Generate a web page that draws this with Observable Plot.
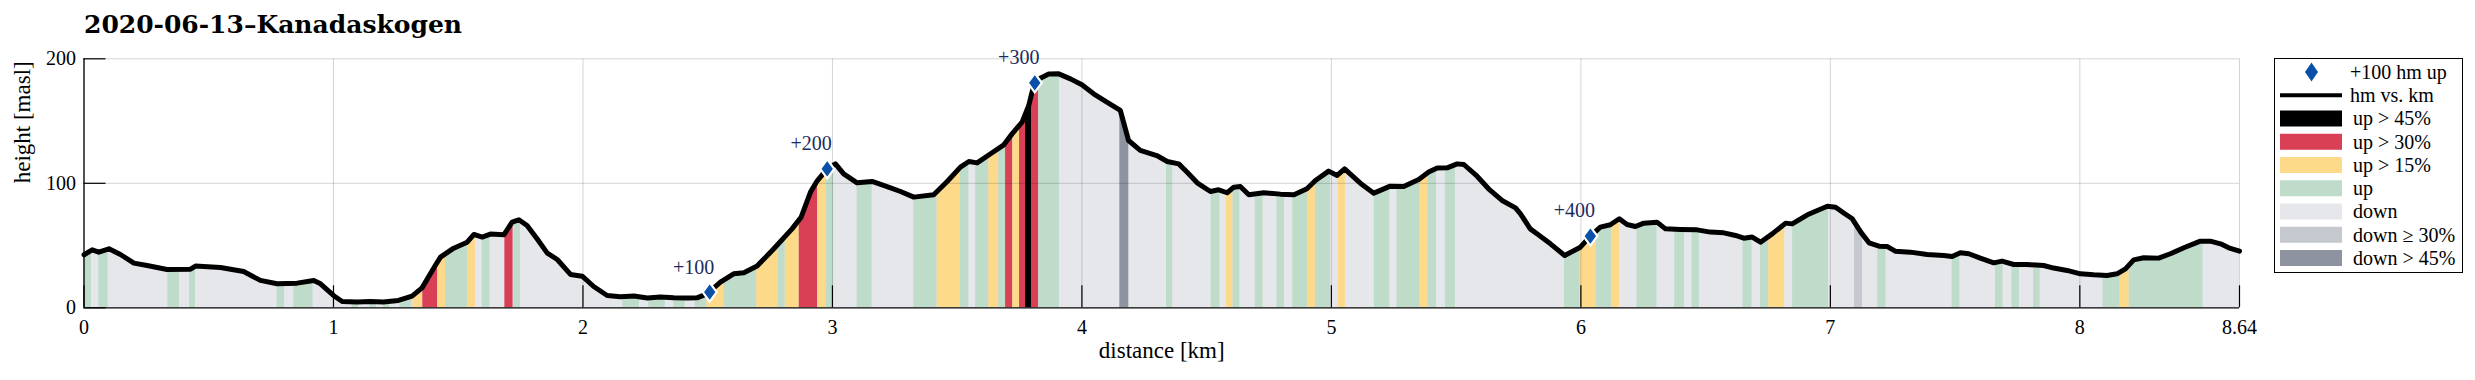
<!DOCTYPE html>
<html>
<head>
<meta charset="utf-8">
<script src="https://cdn.jsdelivr.net/npm/d3@7"></script>
<script src="https://cdn.jsdelivr.net/npm/@observablehq/plot@0.6"></script>
<style>
  body { margin: 0; background: #fff; }
  #wrap { position: relative; width: 2475px; height: 380px; overflow: hidden; background: #fff; }
  #title { position: absolute; left: 84px; top: 12px; font: bold 25px "DejaVu Serif", serif; line-height: 1; white-space: nowrap; color: #000; }
  #chart { position: absolute; left: 0; top: 0; }
  #legend { position: absolute; left: 2274px; top: 58px; }
</style>
</head>
<body>
<div id="wrap">
  <div id="chart"></div>
  <div id="title">2020-06-13–Kanadaskogen</div>
  <div id="legend"></div>
</div>
<script>
// ---- elevation profile (distance in km, height in masl) ----
const distKm = [0.000,0.033,0.059,0.100,0.146,0.200,0.253,0.333,0.427,0.447,0.547,0.640,0.707,0.774,0.854,0.921,0.948,1.000,1.035,1.095,1.148,1.200,1.260,1.315,1.355,1.408,1.429,1.482,1.536,1.563,1.596,1.629,1.683,1.716,1.743,1.776,1.816,1.857,1.897,1.950,1.997,2.043,2.097,2.150,2.204,2.258,2.310,2.364,2.418,2.457,2.497,2.551,2.604,2.645,2.698,2.765,2.838,2.875,2.912,2.939,2.979,3.012,3.045,3.099,3.159,3.219,3.273,3.326,3.406,3.460,3.513,3.547,3.580,3.634,3.687,3.720,3.760,3.787,3.800,3.811,3.833,3.867,3.907,3.954,4.000,4.047,4.100,4.154,4.187,4.234,4.300,4.342,4.388,4.421,4.462,4.515,4.548,4.582,4.609,4.635,4.669,4.729,4.796,4.850,4.902,4.936,4.989,5.023,5.053,5.116,5.170,5.236,5.290,5.350,5.390,5.424,5.464,5.504,5.531,5.584,5.630,5.684,5.738,5.758,5.797,5.824,5.878,5.935,5.998,6.038,6.078,6.118,6.154,6.185,6.219,6.252,6.305,6.339,6.399,6.466,6.519,6.573,6.620,6.653,6.687,6.720,6.767,6.821,6.847,6.908,6.988,7.021,7.055,7.088,7.122,7.155,7.195,7.227,7.260,7.321,7.388,7.455,7.488,7.521,7.555,7.601,7.655,7.688,7.735,7.788,7.855,7.895,7.949,8.002,8.056,8.109,8.149,8.183,8.216,8.256,8.316,8.363,8.417,8.483,8.523,8.564,8.597,8.640];
const heightM = [42.6,46.6,44.7,47.4,42.8,35.9,34.0,30.8,31.0,33.5,32.4,29.2,22.0,19.3,19.8,22.0,19.3,9.9,5.1,4.6,5.1,4.6,5.9,9.4,16.0,34.0,40.7,47.9,52.7,58.9,56.8,59.2,58.6,68.8,70.7,66.1,55.4,43.9,38.8,26.8,25.4,17.1,9.9,8.8,9.4,7.8,8.6,8.0,7.8,8.0,11.2,20.6,27.3,28.1,33.5,47.4,63.4,73.0,92.9,102.0,111.6,115.6,107.6,100.4,101.5,97.4,93.4,88.9,90.8,101.5,113.0,117.5,116.4,123.7,130.9,139.7,149.1,162.5,173.2,180.7,184.4,187.7,187.9,183.9,179.1,171.9,165.2,158.5,134.4,126.4,122.3,117.5,115.6,109.0,100.4,93.4,94.8,92.4,96.9,97.4,90.8,92.4,91.3,90.8,95.6,102.3,109.8,106.3,111.6,100.1,92.1,97.7,97.4,103.0,109.0,112.2,112.4,115.6,115.1,105.7,95.6,86.2,80.3,75.5,63.4,59.4,51.4,42.0,48.7,57.6,64.8,66.7,71.5,66.9,65.3,68.0,68.8,63.4,62.9,62.6,60.8,60.2,58.1,55.9,56.8,52.7,59.4,68.0,67.4,74.7,81.6,80.8,76.0,71.5,60.8,52.2,49.5,49.3,45.5,44.7,42.8,42.0,41.2,44.2,43.4,39.9,36.1,37.5,34.8,34.8,34.0,31.9,30.0,27.3,26.5,26.0,27.3,31.3,38.5,40.2,39.9,43.4,48.2,53.5,53.5,51.4,48.2,45.5];

// ---- slope-class stretches (everything else is "down") ----
const bandFrom = [0.000,0.059,0.336,0.423,0.774,0.841,1.075,1.146,1.200,1.266,1.319,1.358,1.418,1.449,1.539,1.596,1.687,1.723,2.160,2.264,2.364,2.450,2.497,2.565,2.697,2.782,2.811,2.867,2.941,2.976,3.099,3.326,3.420,3.513,3.574,3.627,3.667,3.694,3.723,3.750,3.774,3.800,3.827,4.152,4.339,4.518,4.579,4.606,4.695,4.782,4.845,4.906,4.936,5.027,5.172,5.263,5.356,5.387,5.457,5.934,5.995,6.061,6.125,6.225,6.376,6.446,6.650,6.720,6.753,6.849,7.097,7.190,7.488,7.662,7.728,7.815,8.093,8.162,8.198];
const bandTo   = [0.030,0.097,0.383,0.447,0.804,0.918,1.100,1.172,1.225,1.315,1.358,1.418,1.449,1.539,1.569,1.627,1.720,1.749,2.226,2.330,2.410,2.497,2.565,2.697,2.782,2.811,2.867,2.941,2.976,3.005,3.159,3.420,3.513,3.547,3.627,3.667,3.694,3.723,3.750,3.774,3.800,3.827,3.910,4.188,4.364,4.553,4.606,4.633,4.726,4.812,4.906,4.936,4.996,5.056,5.234,5.356,5.387,5.421,5.497,5.995,6.061,6.125,6.156,6.305,6.415,6.475,6.686,6.753,6.817,6.993,7.129,7.223,7.519,7.692,7.758,7.841,8.162,8.198,8.494];
const bandCat  = ["up","up","up","up","up","up","up","up","up","up","up > 15%","up > 30%","up > 15%","up","up > 15%","up","up > 30%","up","up","up","up","up","up > 15%","up","up > 15%","up","up > 15%","up > 30%","up > 15%","up","up","up","up > 15%","up","up","up > 15%","up","up > 30%","up > 15%","up > 30%","up > 45%","up > 30%","up","down > 45%","up","up","up > 15%","up","up","up","up","up > 15%","up","up > 15%","up","up","up > 15%","up","up","up","up > 15%","up","up > 15%","up","up","up","up","up","up > 15%","up","down ≥ 30%","up","up","up","up","up","up","up > 15%","up"];

// ---- +100 hm markers ----
const markerKm = [2.508, 2.979, 3.811, 6.038];
const markerH = [12.6, 111.6, 180.7, 57.6];
const markerLabel = ["+100", "+200", "+300", "+400"];

// ---- categories / ticks ----
const catNames = ["up > 45%", "up > 30%", "up > 15%", "up", "down", "down ≥ 30%", "down > 45%"];
const catColors = ["#000000", "#d93f55", "#fdd98a", "#bfdccb", "#e6e7eb", "#c6c8cf", "#8d94a0"];
const xTicks = [0, 1, 2, 3, 4, 5, 6, 7, 8, 8.64];
const xTickLabels = ["0", "1", "2", "3", "4", "5", "6", "7", "8", "8.64"];
const yTicks = [0, 100, 200];
const yTickLabels = ["0", "100", "200"];
const legendLabels = ["+100 hm up", "hm vs. km", "up > 45%", "up > 30%", "up > 15%", "up", "down", "down ≥ 30%", "down > 45%"];

// ---- derived tables ----
const profile = distKm.map((k, i) => ({km: k, h: heightM[i], cat: "down"}));
function hAt(k) {
  for (let i = 0; i < distKm.length - 1; i++) {
    if (k >= distKm[i] && k <= distKm[i + 1]) {
      const t = (k - distKm[i]) / (distKm[i + 1] - distKm[i] || 1);
      return heightM[i] + t * (heightM[i + 1] - heightM[i]);
    }
  }
  return heightM[heightM.length - 1];
}
const bandPts = [];
bandFrom.forEach((a, j) => {
  const b = bandTo[j];
  bandPts.push({km: a, h: hAt(a), band: j, cat: bandCat[j]});
  distKm.forEach((k, i) => { if (k > a && k < b) bandPts.push({km: k, h: heightM[i], band: j, cat: bandCat[j]}); });
  bandPts.push({km: b, h: hAt(b), band: j, cat: bandCat[j]});
});
const markers = markerKm.map((k, i) => ({km: k, h: markerH[i], label: markerLabel[i]}));

const tallDiamond = {
  draw(context) {
    context.moveTo(0, -9.5);
    context.lineTo(7, 0);
    context.lineTo(0, 9.5);
    context.lineTo(-7, 0);
    context.closePath();
  }
};

const W = 2475, H = 380, mL = 83.5, mR = 236, mT = 58.3, mB = 72.7;
const tickLen = 22;

const chart = Plot.plot({
  width: W,
  height: H,
  marginLeft: mL,
  marginRight: mR,
  marginTop: mT,
  marginBottom: mB,
  x: {domain: [0, 8.64], label: null},
  y: {domain: [0, 200], label: null},
  color: {domain: catNames, range: catColors},
  style: {fontFamily: "'Liberation Serif', serif", fontSize: "20px", background: "transparent", color: "#000", overflow: "visible"},
  marks: [
    Plot.areaY(profile, {x: "km", y1: 0, y2: "h", fill: "cat"}),
    Plot.areaY(bandPts, {x: "km", y1: 0, y2: "h", z: "band", fill: "cat"}),
    Plot.gridX(xTicks, {stroke: "#000", strokeOpacity: 0.17}),
    Plot.gridY([100, 200], {stroke: "#000", strokeOpacity: 0.17}),
    Plot.axisX({ticks: xTicks, tickSize: 0, tickPadding: 12, tickFormat: d => xTickLabels[xTicks.indexOf(d)], fontSize: 20, label: null}),
    Plot.axisY({ticks: yTicks, tickSize: 0, tickPadding: 8, tickFormat: d => yTickLabels[yTicks.indexOf(d)], fontSize: 20, label: null}),
    Plot.tickX(xTicks, {x: d => d, insetTop: (H - mT - mB) - tickLen, stroke: "#000", strokeWidth: 1.2}),
    Plot.tickY(yTicks, {y: d => d, insetRight: (W - mL - mR) - tickLen, stroke: "#000", strokeWidth: 1.2}),
    Plot.ruleY([0], {stroke: "#000", strokeWidth: 1.3}),
    Plot.ruleX([0], {stroke: "#000", strokeWidth: 1.3}),
    Plot.line(profile, {x: "km", y: "h", stroke: "#000", strokeWidth: 5, strokeLinejoin: "round", strokeLinecap: "round"}),
    Plot.dot(markers, {x: "km", y: "h", symbol: tallDiamond, fill: "#0a4fa8", stroke: "#fff", strokeWidth: 2.2}),
    Plot.text(markers, {x: "km", y: "h", text: "label", dx: -16, dy: -25, fontSize: 20, fill: "#1c2b5e"}),
    Plot.text(["height [masl]"], {frameAnchor: "left", dx: -61, rotate: -90, fontSize: 23, fill: "#000"}),
    Plot.text(["distance [km]"], {frameAnchor: "bottom", dy: 50, fontSize: 23, fill: "#000"})
  ]
});
document.getElementById("chart").appendChild(chart);

// ---- legend ----
const LW = 189, LH = 215;
const svg = d3.create("svg").attr("width", LW).attr("height", LH)
  .style("font-family", "'Liberation Serif', serif").style("font-size", "20px").style("display", "block");
svg.append("rect").attr("x", 0.5).attr("y", 0.5).attr("width", LW - 1).attr("height", LH - 1)
  .attr("fill", "#fff").attr("stroke", "#000").attr("stroke-width", 1);
const rowY = i => 14 + i * 23.25;
legendLabels.forEach((lab, i) => {
  const cy = rowY(i);
  if (i === 0) {
    svg.append("path").attr("d", "M0,-9.5L6.5,0L0,9.5L-6.5,0Z").attr("transform", `translate(37.5,${cy})`).attr("fill", "#0a4fa8");
  } else if (i === 1) {
    svg.append("line").attr("x1", 6).attr("x2", 68).attr("y1", cy).attr("y2", cy).attr("stroke", "#000").attr("stroke-width", 4);
  } else {
    const c = catColors[catNames.indexOf(lab)];
    svg.append("rect").attr("x", 6).attr("y", cy - 8).attr("width", 62).attr("height", 16).attr("fill", c);
  }
  svg.append("text").attr("x", i < 2 ? 76 : 79).attr("y", cy).attr("dy", "0.34em").text(lab);
});
document.getElementById("legend").appendChild(svg.node());
</script>
</body>
</html>
